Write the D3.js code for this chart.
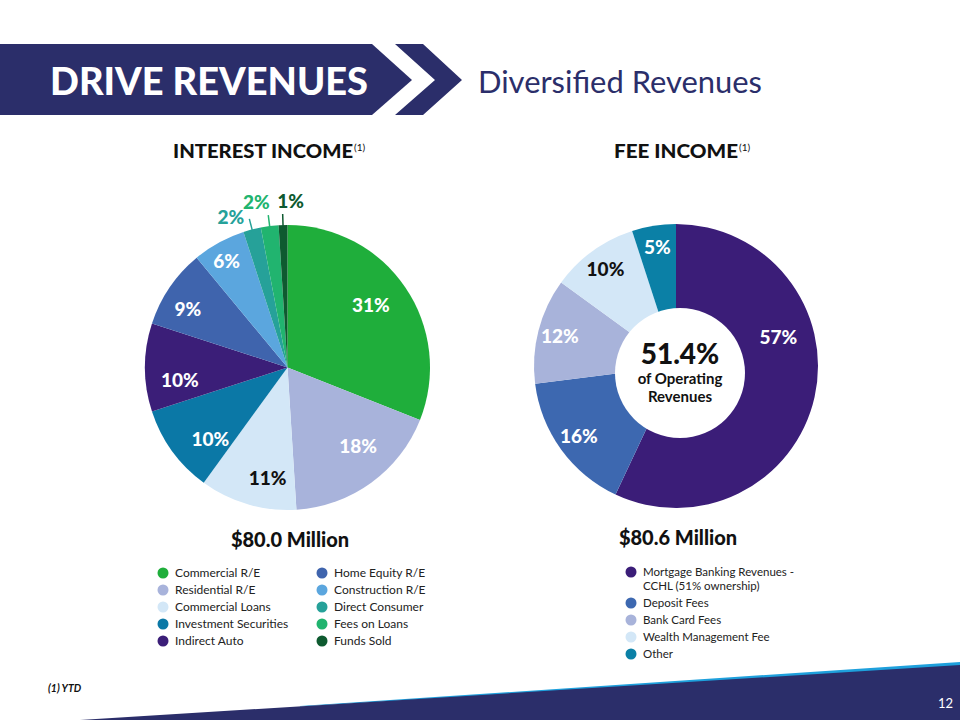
<!DOCTYPE html>
<html>
<head>
<meta charset="utf-8">
<script src="https://cdn.jsdelivr.net/npm/d3@7"></script>
<style>
  html, body { margin: 0; padding: 0; background: #ffffff; }
  svg { display: block; }
  text { font-family: Lato, "Open Sans", sans-serif; }
</style>
</head>
<body>
<svg id="chart" width="960" height="720"></svg>
<script>
// ---------- DATA ----------
const interestCategories = ["Commercial R/E", "Residential R/E", "Commercial Loans", "Investment Securities", "Indirect Auto",
  "Home Equity R/E", "Construction R/E", "Direct Consumer", "Fees on Loans", "Funds Sold"];
const interestValues = [31, 18, 11, 10, 10, 9, 6, 2, 2, 1];
const interestColors = ["#1fae3b", "#a8b3db", "#d3e7f7", "#0b78a6", "#3b1e78",
  "#3f64ad", "#5ba6de", "#26a199", "#21b46f", "#0e5a30"];
const interestLabelColors = ["#fff", "#fff", "#111", "#fff", "#fff", "#fff", "#fff", "#26a199", "#21b46f", "#0e5a30"];

const feeCategories = ["Mortgage Banking Revenues -|CCHL (51% ownership)", "Deposit Fees", "Bank Card Fees", "Wealth Management Fee", "Other"];
const feeValues = [57, 16, 12, 10, 5];
const feeColors = ["#3b1d78", "#3d68b0", "#a8b3da", "#d3e7f7", "#0b80a6"];
const feeLabelColors = ["#fff", "#fff", "#fff", "#111", "#fff"];

const interestTotal = "$80.0 Million";
const feeTotal = "$80.6 Million";
const feeCenterValue = "51.4%";

// ---------- LAYOUT ----------
const navy = "#2b2e6a";
const svg = d3.select("#chart");

// header banner
svg.append("polygon").attr("fill", navy)
  .attr("points", [[0,44],[372,44],[412,80],[372,115],[0,115]].join(" "));
svg.append("polygon").attr("fill", navy)
  .attr("points", [[395,44],[423,44],[462,80],[423,115],[395,115],[435,80]].join(" "));
svg.append("text").attr("x", 50).attr("y", 95)
  .attr("font-size", 37).attr("font-weight", 900).attr("fill", "#fff")
  .attr("textLength", 318).attr("lengthAdjust", "spacingAndGlyphs")
  .text("DRIVE REVENUES");
svg.append("text").attr("x", 478).attr("y", 93)
  .attr("font-size", 30).attr("font-weight", 400).attr("fill", navy)
  .attr("textLength", 284).attr("lengthAdjust", "spacingAndGlyphs")
  .text("Diversified Revenues");

// section titles
function title(x, y, w, txt) {
  svg.append("text").attr("x", x).attr("y", y)
    .attr("font-size", 19).attr("font-weight", 900).attr("fill", "#111")
    .attr("textLength", w).attr("lengthAdjust", "spacingAndGlyphs").text(txt);
  svg.append("text").attr("x", x + w + 1).attr("y", y - 7)
    .attr("font-size", 10).attr("font-weight", 400).attr("fill", "#111").text("(1)");
}
title(173, 158, 180, "INTEREST INCOME");
title(614, 158, 124, "FEE INCOME");

// ---------- INTEREST PIE ----------
const pie = d3.pie().sort(null).value(d => d);
const c1 = {x: 287.5, y: 367.5}, R1 = 142.5;
const arc1 = d3.arc().innerRadius(0).outerRadius(R1);
const g1 = svg.append("g").attr("transform", `translate(${c1.x},${c1.y})`);
const arcs1 = pie(interestValues);
g1.selectAll("path").data(arcs1).join("path")
  .attr("d", arc1).attr("fill", (d, i) => interestColors[i]);

// inner label placement: [radius factor, angle shift in degrees]
const innerLabelLayout = [[0.73,-2.6],[0.74,-6],[0.79,-6],[0.74,-7],[0.76,-6.5],[0.81,-4],[0.86,-1]];
const toXY = (ang, r) => [r * Math.sin(ang), -r * Math.cos(ang)];
arcs1.forEach((d, i) => {
  const mid = (d.startAngle + d.endAngle) / 2;
  if (i < innerLabelLayout.length) {
    const [f, sh] = innerLabelLayout[i];
    const [x, y] = toXY(mid + sh * Math.PI / 180, f * R1);
    g1.append("text").attr("x", x).attr("y", y).attr("dy", "0.36em")
      .attr("text-anchor", "middle").attr("font-size", 19).attr("font-weight", 900)
      .attr("fill", interestLabelColors[i]).text(d.data + "%");
  }
});
// outer labels with leader lines for small slices
const outerLabelLayout = [
  {anchor: "end", dx: -5, dy: 5},
  {anchor: "middle", dx: -12, dy: -6},
  {anchor: "middle", dx: 8, dy: -6}
];
arcs1.slice(innerLabelLayout.length).forEach((d, k) => {
  const i = innerLabelLayout.length + k;
  const mid = (d.startAngle + d.endAngle) / 2;
  const [x0, y0] = toXY(mid, R1 - 2);
  const [x1, y1] = toXY(mid, R1 + 11);
  g1.append("line").attr("x1", x0).attr("y1", y0).attr("x2", x1).attr("y2", y1)
    .attr("stroke", interestLabelColors[i]).attr("stroke-width", 1.5);
  const L = outerLabelLayout[k];
  g1.append("text").attr("x", x1 + L.dx).attr("y", y1 + L.dy)
    .attr("text-anchor", L.anchor).attr("font-size", 19).attr("font-weight", 900)
    .attr("fill", interestLabelColors[i]).text(d.data + "%");
});

// ---------- FEE DONUT ----------
const c2 = {x: 676, y: 366}, R2 = 142;
const arc2 = d3.arc().innerRadius(0).outerRadius(R2);
const g2 = svg.append("g").attr("transform", `translate(${c2.x},${c2.y})`);
const arcs2 = pie(feeValues);
g2.selectAll("path").data(arcs2).join("path")
  .attr("d", arc2).attr("fill", (d, i) => feeColors[i]);
// white centre hole
svg.append("circle").attr("cx", 680).attr("cy", 373).attr("r", 65).attr("fill", "#fff");
arcs2.forEach((d, i) => {
  let mid = (d.startAngle + d.endAngle) / 2, f = 0.845;
  if (i === 0) { mid = 74 * Math.PI / 180; f = 0.75; }
  const [x, y] = toXY(mid, f * R2);
  g2.append("text").attr("x", x).attr("y", y).attr("dy", "0.36em")
    .attr("text-anchor", "middle").attr("font-size", 19).attr("font-weight", 900)
    .attr("fill", feeLabelColors[i]).text(d.data + "%");
});
svg.append("text").attr("x", 680).attr("y", 364).attr("text-anchor", "middle")
  .attr("font-size", 28).attr("font-weight", 900).attr("fill", "#111").text(feeCenterValue);
svg.append("text").attr("x", 680).attr("y", 384).attr("text-anchor", "middle")
  .attr("font-size", 15).attr("font-weight", 700).attr("fill", "#111").text("of Operating");
svg.append("text").attr("x", 680).attr("y", 402).attr("text-anchor", "middle")
  .attr("font-size", 15).attr("font-weight", 700).attr("fill", "#111").text("Revenues");

// ---------- TOTALS ----------
svg.append("text").attr("x", 290).attr("y", 547).attr("text-anchor", "middle")
  .attr("font-size", 20).attr("font-weight", 900).attr("fill", "#111").text(interestTotal);
svg.append("text").attr("x", 678).attr("y", 545).attr("text-anchor", "middle")
  .attr("font-size", 20).attr("font-weight", 900).attr("fill", "#111").text(feeTotal);

// ---------- LEGENDS ----------
const rowH = 17;
interestCategories.forEach((name, i) => {
  const col = Math.floor(i / 5), row = i % 5;
  const cx = col === 0 ? 163 : 322, cy = 573 + row * rowH;
  svg.append("circle").attr("cx", cx).attr("cy", cy).attr("r", 5.5).attr("fill", interestColors[i]);
  svg.append("text").attr("x", cx + 12).attr("y", cy).attr("dy", "0.35em")
    .attr("font-size", 12).attr("fill", "#222").text(name);
});
let fy = 572;
const lineGap = 14;
feeCategories.forEach((name, i) => {
  const lines = name.split("|");
  svg.append("circle").attr("cx", 631).attr("cy", fy).attr("r", 5.5).attr("fill", feeColors[i]);
  lines.forEach((ln, j) => {
    svg.append("text").attr("x", 643).attr("y", fy + j * lineGap).attr("dy", "0.35em")
      .attr("font-size", 11.5).attr("fill", "#222").text(ln);
  });
  fy += rowH + (lines.length - 1) * lineGap;
});

// ---------- FOOTER ----------
svg.append("polygon").attr("fill", "#1ea0dc")
  .attr("points", [[300,706],[960,662],[960,668],[300,706.5]].join(" "));
svg.append("polygon").attr("fill", navy)
  .attr("points", [[80,720],[960,665],[960,720]].join(" "));
svg.append("text").attr("x", 48).attr("y", 692)
  .attr("font-size", 10.5).attr("font-weight", 700).attr("font-style", "italic")
  .attr("fill", "#111").text("(1) YTD");
svg.append("text").attr("x", 953).attr("y", 708).attr("text-anchor", "end")
  .attr("font-size", 13).attr("fill", "#fff").text("12");
</script>
</body>
</html>
